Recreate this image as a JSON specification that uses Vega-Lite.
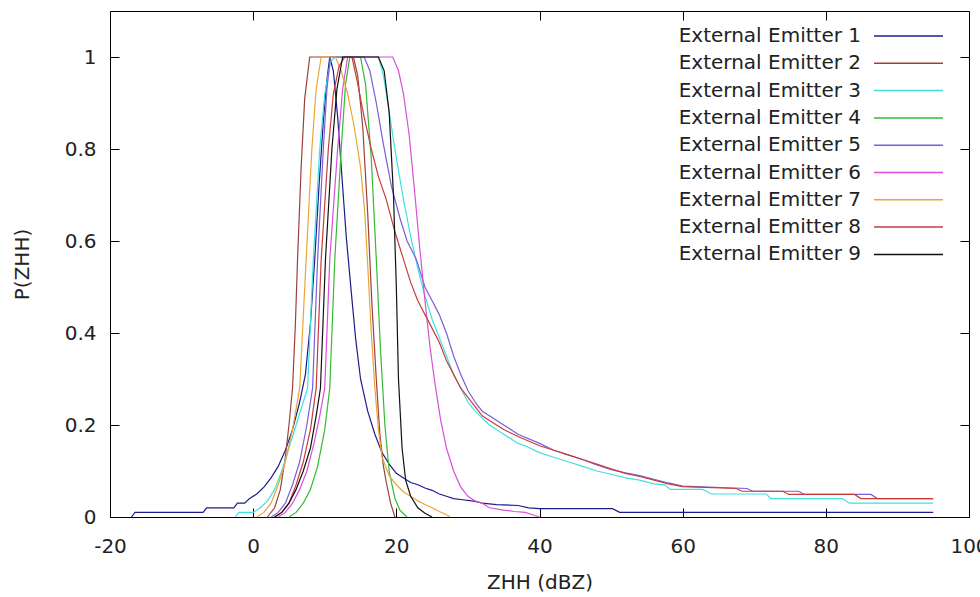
{
  "$schema": "https://vega.github.io/schema/vega-lite/v6.json",
  "width": 859,
  "height": 506,
  "autosize": {"type": "none"},
  "padding": {"left": 110, "top": 11, "right": 11, "bottom": 80},
  "background": "white",
  "config": {
    "view": {"stroke": "#000000", "strokeWidth": 1},
    "font": "DejaVu Sans",
    "axis": {"grid": false, "domain": false, "tickColor": "#000000", "tickSize": -9, "tickWidth": 1, "labelFont": "DejaVu Sans", "labelFontSize": 20, "labelColor": "#222222", "labelFlush": false, "labelOverlap": false, "titleFont": "DejaVu Sans", "titleFontSize": 20, "titleFontWeight": "normal", "titleColor": "#222222"}
  },
  "data": {"values": [
    {"k":1,"x":-17,"y":0},{"k":1,"x":-16.5,"y":0.01},{"k":1,"x":-7,"y":0.01},{"k":1,"x":-6.5,"y":0.02},{"k":1,"x":-2.7,"y":0.02},{"k":1,"x":-2.2,"y":0.03},{"k":1,"x":-1.2,"y":0.03},{"k":1,"x":-0.5,"y":0.04},{"k":1,"x":0.5,"y":0.05},{"k":1,"x":1.5,"y":0.065},{"k":1,"x":2.5,"y":0.085},{"k":1,"x":3.5,"y":0.11},{"k":1,"x":4.5,"y":0.145},{"k":1,"x":5.5,"y":0.19},{"k":1,"x":6.5,"y":0.25},{"k":1,"x":7.3,"y":0.31},{"k":1,"x":8,"y":0.42},{"k":1,"x":8.6,"y":0.56},{"k":1,"x":9.2,"y":0.72},{"k":1,"x":9.8,"y":0.86},{"k":1,"x":10.3,"y":0.95},{"k":1,"x":10.7,"y":1},{"k":1,"x":11.2,"y":0.97},{"k":1,"x":11.8,"y":0.87},{"k":1,"x":12.4,"y":0.74},{"k":1,"x":13,"y":0.61},{"k":1,"x":13.7,"y":0.49},{"k":1,"x":14.3,"y":0.39},{"k":1,"x":15,"y":0.3},{"k":1,"x":16,"y":0.23},{"k":1,"x":17,"y":0.18},{"k":1,"x":18,"y":0.14},{"k":1,"x":19,"y":0.115},{"k":1,"x":20,"y":0.095},{"k":1,"x":21,"y":0.085},{"k":1,"x":22,"y":0.075},{"k":1,"x":23,"y":0.07},{"k":1,"x":24,"y":0.063},{"k":1,"x":25,"y":0.058},{"k":1,"x":26,"y":0.05},{"k":1,"x":27,"y":0.045},{"k":1,"x":28,"y":0.04},{"k":1,"x":29,"y":0.038},{"k":1,"x":31,"y":0.034},{"k":1,"x":32,"y":0.03},{"k":1,"x":34,"y":0.027},{"k":1,"x":37,"y":0.025},{"k":1,"x":38.5,"y":0.02},{"k":1,"x":40,"y":0.018},{"k":1,"x":50.2,"y":0.018},{"k":1,"x":51.2,"y":0.01},{"k":1,"x":95,"y":0.01},
    {"k":2,"x":2,"y":0},{"k":2,"x":3,"y":0.02},{"k":2,"x":3.8,"y":0.06},{"k":2,"x":4.5,"y":0.13},{"k":2,"x":5,"y":0.2},{"k":2,"x":5.5,"y":0.28},{"k":2,"x":5.9,"y":0.42},{"k":2,"x":6.2,"y":0.56},{"k":2,"x":6.7,"y":0.76},{"k":2,"x":7.2,"y":0.91},{"k":2,"x":7.9,"y":1},{"k":2,"x":14,"y":1},{"k":2,"x":14.6,"y":0.96},{"k":2,"x":15.3,"y":0.85},{"k":2,"x":16,"y":0.66},{"k":2,"x":16.6,"y":0.46},{"k":2,"x":17.2,"y":0.3},{"k":2,"x":17.7,"y":0.18},{"k":2,"x":18.2,"y":0.11},{"k":2,"x":18.6,"y":0.075},{"k":2,"x":19.2,"y":0.03},{"k":2,"x":19.8,"y":0},
    {"k":3,"x":-2.5,"y":0},{"k":3,"x":-2,"y":0.01},{"k":3,"x":0,"y":0.01},{"k":3,"x":1,"y":0.02},{"k":3,"x":2,"y":0.035},{"k":3,"x":3,"y":0.06},{"k":3,"x":4,"y":0.1},{"k":3,"x":5,"y":0.15},{"k":3,"x":6,"y":0.2},{"k":3,"x":7,"y":0.25},{"k":3,"x":7.6,"y":0.28},{"k":3,"x":8.4,"y":0.56},{"k":3,"x":9.3,"y":0.8},{"k":3,"x":10,"y":0.92},{"k":3,"x":10.8,"y":0.99},{"k":3,"x":11.5,"y":1},{"k":3,"x":17.5,"y":1},{"k":3,"x":18.2,"y":0.96},{"k":3,"x":19,"y":0.88},{"k":3,"x":20,"y":0.78},{"k":3,"x":21,"y":0.69},{"k":3,"x":22,"y":0.61},{"k":3,"x":23,"y":0.54},{"k":3,"x":24,"y":0.48},{"k":3,"x":25,"y":0.43},{"k":3,"x":26,"y":0.39},{"k":3,"x":27,"y":0.35},{"k":3,"x":28,"y":0.31},{"k":3,"x":29,"y":0.28},{"k":3,"x":30,"y":0.25},{"k":3,"x":31,"y":0.23},{"k":3,"x":32,"y":0.215},{"k":3,"x":33,"y":0.2},{"k":3,"x":34,"y":0.19},{"k":3,"x":35,"y":0.18},{"k":3,"x":36,"y":0.17},{"k":3,"x":37,"y":0.16},{"k":3,"x":38,"y":0.155},{"k":3,"x":40,"y":0.14},{"k":3,"x":42,"y":0.13},{"k":3,"x":44,"y":0.12},{"k":3,"x":46,"y":0.11},{"k":3,"x":48,"y":0.1},{"k":3,"x":50,"y":0.093},{"k":3,"x":52,"y":0.085},{"k":3,"x":54,"y":0.08},{"k":3,"x":56,"y":0.072},{"k":3,"x":57.5,"y":0.07},{"k":3,"x":58.3,"y":0.06},{"k":3,"x":62.8,"y":0.06},{"k":3,"x":64,"y":0.05},{"k":3,"x":71.7,"y":0.05},{"k":3,"x":72.3,"y":0.04},{"k":3,"x":82.3,"y":0.04},{"k":3,"x":83.3,"y":0.03},{"k":3,"x":95,"y":0.03},
    {"k":4,"x":5,"y":0},{"k":4,"x":6,"y":0.01},{"k":4,"x":7,"y":0.03},{"k":4,"x":8,"y":0.06},{"k":4,"x":9,"y":0.11},{"k":4,"x":10,"y":0.19},{"k":4,"x":10.7,"y":0.28},{"k":4,"x":11.4,"y":0.56},{"k":4,"x":12.3,"y":0.8},{"k":4,"x":12.9,"y":0.94},{"k":4,"x":13.5,"y":1},{"k":4,"x":15,"y":1},{"k":4,"x":15.7,"y":0.94},{"k":4,"x":16.5,"y":0.78},{"k":4,"x":17.2,"y":0.56},{"k":4,"x":17.8,"y":0.36},{"k":4,"x":18.4,"y":0.2},{"k":4,"x":19,"y":0.1},{"k":4,"x":19.8,"y":0.04},{"k":4,"x":20.5,"y":0.015},{"k":4,"x":21.5,"y":0},
    {"k":5,"x":2.5,"y":0},{"k":5,"x":3.5,"y":0.01},{"k":5,"x":4.5,"y":0.03},{"k":5,"x":5.5,"y":0.07},{"k":5,"x":6.5,"y":0.12},{"k":5,"x":7.5,"y":0.2},{"k":5,"x":8.3,"y":0.28},{"k":5,"x":9,"y":0.56},{"k":5,"x":9.8,"y":0.8},{"k":5,"x":10.3,"y":0.93},{"k":5,"x":10.8,"y":1},{"k":5,"x":15.5,"y":1},{"k":5,"x":16.3,"y":0.97},{"k":5,"x":17.2,"y":0.9},{"k":5,"x":18.2,"y":0.81},{"k":5,"x":19.3,"y":0.72},{"k":5,"x":20.5,"y":0.65},{"k":5,"x":21.5,"y":0.6},{"k":5,"x":22.8,"y":0.56},{"k":5,"x":24,"y":0.5},{"k":5,"x":25,"y":0.47},{"k":5,"x":26,"y":0.44},{"k":5,"x":27,"y":0.4},{"k":5,"x":28,"y":0.35},{"k":5,"x":29,"y":0.31},{"k":5,"x":30,"y":0.275},{"k":5,"x":31,"y":0.25},{"k":5,"x":32,"y":0.23},{"k":5,"x":33,"y":0.22},{"k":5,"x":35,"y":0.2},{"k":5,"x":37,"y":0.18},{"k":5,"x":40,"y":0.16},{"k":5,"x":42,"y":0.145},{"k":5,"x":44,"y":0.135},{"k":5,"x":46,"y":0.125},{"k":5,"x":48,"y":0.113},{"k":5,"x":50,"y":0.103},{"k":5,"x":52,"y":0.096},{"k":5,"x":54,"y":0.09},{"k":5,"x":56,"y":0.082},{"k":5,"x":58,"y":0.074},{"k":5,"x":60,"y":0.067},{"k":5,"x":69,"y":0.062},{"k":5,"x":69.8,"y":0.056},{"k":5,"x":76.2,"y":0.056},{"k":5,"x":77,"y":0.049},{"k":5,"x":86.3,"y":0.049},{"k":5,"x":87.2,"y":0.04},{"k":5,"x":95,"y":0.04},
    {"k":6,"x":3.5,"y":0},{"k":6,"x":4.5,"y":0.01},{"k":6,"x":5.5,"y":0.03},{"k":6,"x":6.5,"y":0.06},{"k":6,"x":7.5,"y":0.1},{"k":6,"x":8.5,"y":0.16},{"k":6,"x":9.3,"y":0.22},{"k":6,"x":10,"y":0.28},{"k":6,"x":10.7,"y":0.56},{"k":6,"x":11.8,"y":0.8},{"k":6,"x":12.5,"y":0.93},{"k":6,"x":13.2,"y":1},{"k":6,"x":19.5,"y":1},{"k":6,"x":20.3,"y":0.97},{"k":6,"x":21,"y":0.92},{"k":6,"x":21.8,"y":0.83},{"k":6,"x":22.6,"y":0.7},{"k":6,"x":23.3,"y":0.58},{"k":6,"x":24,"y":0.47},{"k":6,"x":24.7,"y":0.37},{"k":6,"x":25.4,"y":0.29},{"k":6,"x":26.2,"y":0.21},{"k":6,"x":27,"y":0.15},{"k":6,"x":28,"y":0.1},{"k":6,"x":29,"y":0.065},{"k":6,"x":30,"y":0.045},{"k":6,"x":31,"y":0.035},{"k":6,"x":32,"y":0.03},{"k":6,"x":33,"y":0.02},{"k":6,"x":35,"y":0.015},{"k":6,"x":36.5,"y":0.012},{"k":6,"x":38,"y":0.01},{"k":6,"x":39,"y":0.005},{"k":6,"x":40,"y":0},
    {"k":7,"x":0.5,"y":0},{"k":7,"x":1.5,"y":0.01},{"k":7,"x":2.5,"y":0.03},{"k":7,"x":3.5,"y":0.07},{"k":7,"x":4.5,"y":0.12},{"k":7,"x":5.5,"y":0.19},{"k":7,"x":6.5,"y":0.28},{"k":7,"x":7.4,"y":0.56},{"k":7,"x":8.2,"y":0.8},{"k":7,"x":8.8,"y":0.93},{"k":7,"x":9.5,"y":1},{"k":7,"x":11.5,"y":1},{"k":7,"x":12.3,"y":0.97},{"k":7,"x":13.2,"y":0.92},{"k":7,"x":14.1,"y":0.85},{"k":7,"x":15,"y":0.76},{"k":7,"x":15.6,"y":0.66},{"k":7,"x":16.1,"y":0.52},{"k":7,"x":16.5,"y":0.4},{"k":7,"x":17,"y":0.28},{"k":7,"x":17.5,"y":0.19},{"k":7,"x":18,"y":0.13},{"k":7,"x":19,"y":0.09},{"k":7,"x":20,"y":0.07},{"k":7,"x":21,"y":0.055},{"k":7,"x":22,"y":0.045},{"k":7,"x":23,"y":0.035},{"k":7,"x":24,"y":0.027},{"k":7,"x":25,"y":0.02},{"k":7,"x":26,"y":0.012},{"k":7,"x":27,"y":0.005},{"k":7,"x":27.5,"y":0},
    {"k":8,"x":3,"y":0},{"k":8,"x":4,"y":0.01},{"k":8,"x":5,"y":0.03},{"k":8,"x":6,"y":0.07},{"k":8,"x":7,"y":0.12},{"k":8,"x":8,"y":0.19},{"k":8,"x":8.8,"y":0.28},{"k":8,"x":9.5,"y":0.56},{"k":8,"x":10.5,"y":0.8},{"k":8,"x":11.2,"y":0.92},{"k":8,"x":12,"y":0.98},{"k":8,"x":12.8,"y":1},{"k":8,"x":13.8,"y":1},{"k":8,"x":14.5,"y":0.95},{"k":8,"x":15.5,"y":0.87},{"k":8,"x":16.5,"y":0.8},{"k":8,"x":17.5,"y":0.74},{"k":8,"x":18.6,"y":0.69},{"k":8,"x":19.8,"y":0.62},{"k":8,"x":21,"y":0.56},{"k":8,"x":22,"y":0.51},{"k":8,"x":23,"y":0.47},{"k":8,"x":24,"y":0.44},{"k":8,"x":25,"y":0.41},{"k":8,"x":26,"y":0.38},{"k":8,"x":27,"y":0.34},{"k":8,"x":28,"y":0.31},{"k":8,"x":29,"y":0.28},{"k":8,"x":30,"y":0.26},{"k":8,"x":31,"y":0.24},{"k":8,"x":32,"y":0.22},{"k":8,"x":33,"y":0.21},{"k":8,"x":35,"y":0.19},{"k":8,"x":37,"y":0.175},{"k":8,"x":40,"y":0.155},{"k":8,"x":42,"y":0.145},{"k":8,"x":44,"y":0.135},{"k":8,"x":46,"y":0.125},{"k":8,"x":48,"y":0.115},{"k":8,"x":50,"y":0.105},{"k":8,"x":52,"y":0.095},{"k":8,"x":54,"y":0.088},{"k":8,"x":56,"y":0.08},{"k":8,"x":58,"y":0.072},{"k":8,"x":60,"y":0.066},{"k":8,"x":67.5,"y":0.062},{"k":8,"x":68.3,"y":0.056},{"k":8,"x":74,"y":0.056},{"k":8,"x":74.8,"y":0.049},{"k":8,"x":84,"y":0.049},{"k":8,"x":84.9,"y":0.04},{"k":8,"x":95,"y":0.04},
    {"k":9,"x":3,"y":0},{"k":9,"x":4,"y":0.01},{"k":9,"x":5,"y":0.03},{"k":9,"x":6,"y":0.06},{"k":9,"x":7,"y":0.1},{"k":9,"x":8,"y":0.15},{"k":9,"x":8.8,"y":0.22},{"k":9,"x":9.4,"y":0.28},{"k":9,"x":10.1,"y":0.56},{"k":9,"x":11,"y":0.8},{"k":9,"x":11.7,"y":0.93},{"k":9,"x":12.5,"y":1},{"k":9,"x":17.5,"y":1},{"k":9,"x":18.3,"y":0.97},{"k":9,"x":19,"y":0.88},{"k":9,"x":19.6,"y":0.7},{"k":9,"x":20,"y":0.5},{"k":9,"x":20.3,"y":0.3},{"k":9,"x":20.8,"y":0.15},{"k":9,"x":21.3,"y":0.08},{"k":9,"x":22,"y":0.045},{"k":9,"x":23,"y":0.02},{"k":9,"x":24,"y":0.008},{"k":9,"x":25,"y":0}
  ]},
  "layer": [
    {
      "mark": {"type": "line", "strokeWidth": 1.2},
      "encoding": {
        "x": {"field": "x", "type": "quantitative", "scale": {"domain": [-20, 100], "nice": false, "zero": false},
          "axis": {"orient": "bottom", "values": [-20, 0, 20, 40, 60, 80, 100], "labelExpr": "'' + datum.value", "labelPadding": 28, "title": "ZHH (dBZ)", "titleX": 429.5, "titleY": 65, "titleAlign": "center", "titleBaseline": "middle"}},
        "y": {"field": "y", "type": "quantitative", "scale": {"domain": [0, 1.1], "nice": false, "zero": false},
          "axis": {"orient": "left", "values": [0, 0.2, 0.4, 0.6, 0.8, 1], "labelExpr": "'' + datum.value", "labelPadding": 23, "title": "P(ZHH)", "titleAngle": 270, "titleX": -88, "titleY": 253, "titleAlign": "center", "titleBaseline": "middle"}},
        "color": {"field": "k", "type": "nominal",
          "scale": {"domain": [1, 2, 3, 4, 5, 6, 7, 8, 9], "range": ["#1c1c8c", "#9a4040", "#40e0e0", "#33bb33", "#7a5fd6", "#d94fd9", "#eba535", "#c83c3c", "#111111"]},
          "legend": {"orient": "none", "legendX": 786, "legendY": 12.5, "title": null, "padding": 0, "symbolType": "M-3,0H3", "symbolSize": 529, "symbolStrokeWidth": 1.5, "symbolFillColor": "transparent", "rowPadding": 4.3, "labelAlign": "right", "labelOffset": -60, "labelFontSize": 20, "labelFont": "DejaVu Sans", "labelColor": "#222222", "labelLimit": 400, "labelExpr": "'External Emitter ' + datum.label"}}
      }
    },
    {
      "mark": {"type": "point", "opacity": 0},
      "encoding": {
        "x": {"field": "x", "type": "quantitative", "axis": {"orient": "top", "values": [-20, 0, 20, 40, 60, 80, 100], "labels": false, "title": null}},
        "y": {"field": "y", "type": "quantitative", "axis": {"orient": "right", "values": [0, 0.2, 0.4, 0.6, 0.8, 1], "labels": false, "title": null}}
      }
    }
  ],
  "resolve": {"axis": {"x": "independent", "y": "independent"}}
}
